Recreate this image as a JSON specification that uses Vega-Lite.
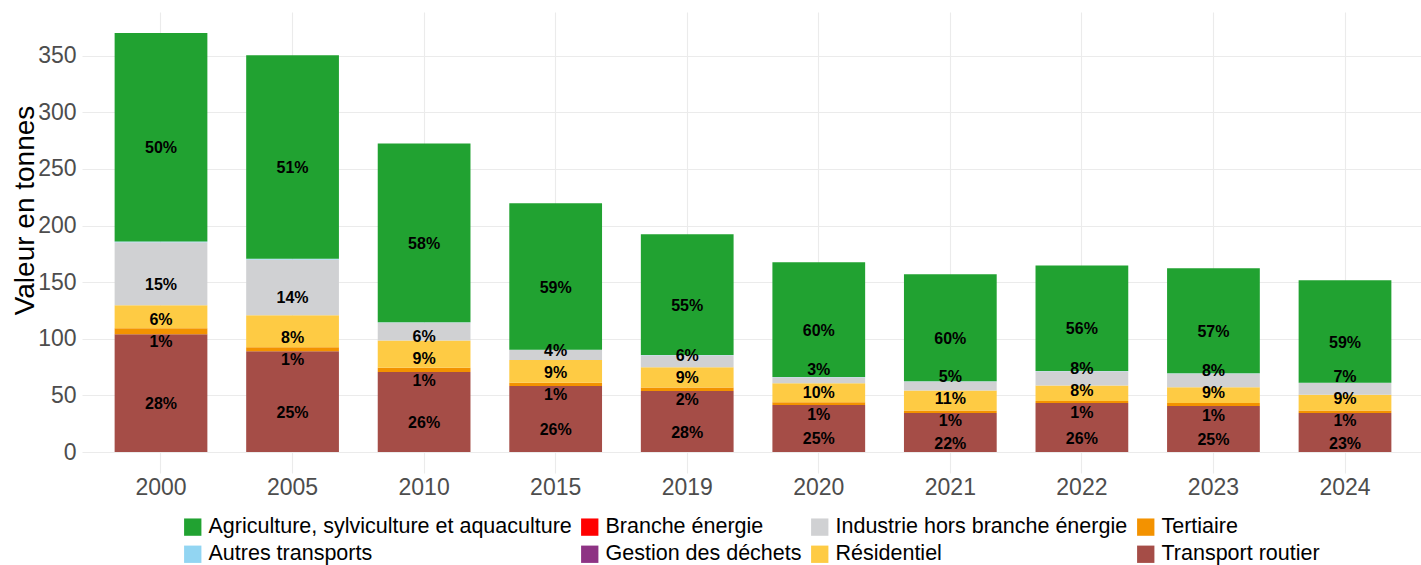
{
  "$schema": "https://vega.github.io/schema/vega-lite/v6.json",
  "width": 1342,
  "height": 461,
  "autosize": {"type": "none"},
  "padding": {"left": 82, "top": 12, "right": 0, "bottom": 92},
  "background": "white",
  "config": {
    "view": {"stroke": null},
    "font": "Liberation Sans"
  },
  "data": {
    "values": [
      {"annee": "2000", "secteur": "Transport routier", "valeur": 104.0, "label": "28%"},
      {"annee": "2000", "secteur": "Tertiaire", "valeur": 5.2, "label": "1%"},
      {"annee": "2000", "secteur": "Résidentiel", "valeur": 20.3, "label": "6%"},
      {"annee": "2000", "secteur": "Industrie hors branche énergie", "valeur": 55.7, "label": "15%"},
      {"annee": "2000", "secteur": "Autres transports", "valeur": 0.6, "label": ""},
      {"annee": "2000", "secteur": "Agriculture, sylviculture et aquaculture", "valeur": 184.2, "label": "50%"},
      {"annee": "2005", "secteur": "Transport routier", "valeur": 89.0, "label": "25%"},
      {"annee": "2005", "secteur": "Tertiaire", "valeur": 3.6, "label": "1%"},
      {"annee": "2005", "secteur": "Résidentiel", "valeur": 28.2, "label": "8%"},
      {"annee": "2005", "secteur": "Industrie hors branche énergie", "valeur": 49.2, "label": "14%"},
      {"annee": "2005", "secteur": "Autres transports", "valeur": 0.6, "label": ""},
      {"annee": "2005", "secteur": "Agriculture, sylviculture et aquaculture", "valeur": 179.8, "label": "51%"},
      {"annee": "2010", "secteur": "Transport routier", "valeur": 70.6, "label": "26%"},
      {"annee": "2010", "secteur": "Tertiaire", "valeur": 3.8, "label": "1%"},
      {"annee": "2010", "secteur": "Résidentiel", "valeur": 24.0, "label": "9%"},
      {"annee": "2010", "secteur": "Industrie hors branche énergie", "valeur": 15.9, "label": "6%"},
      {"annee": "2010", "secteur": "Autres transports", "valeur": 0.3, "label": ""},
      {"annee": "2010", "secteur": "Agriculture, sylviculture et aquaculture", "valeur": 157.9, "label": "58%"},
      {"annee": "2015", "secteur": "Transport routier", "valeur": 58.3, "label": "26%"},
      {"annee": "2015", "secteur": "Tertiaire", "valeur": 2.9, "label": "1%"},
      {"annee": "2015", "secteur": "Résidentiel", "valeur": 20.0, "label": "9%"},
      {"annee": "2015", "secteur": "Industrie hors branche énergie", "valeur": 8.8, "label": "4%"},
      {"annee": "2015", "secteur": "Autres transports", "valeur": 0.3, "label": ""},
      {"annee": "2015", "secteur": "Agriculture, sylviculture et aquaculture", "valeur": 129.3, "label": "59%"},
      {"annee": "2019", "secteur": "Transport routier", "valeur": 53.9, "label": "28%"},
      {"annee": "2019", "secteur": "Tertiaire", "valeur": 3.1, "label": "2%"},
      {"annee": "2019", "secteur": "Résidentiel", "valeur": 17.8, "label": "9%"},
      {"annee": "2019", "secteur": "Industrie hors branche énergie", "valeur": 10.6, "label": "6%"},
      {"annee": "2019", "secteur": "Autres transports", "valeur": 0.3, "label": ""},
      {"annee": "2019", "secteur": "Agriculture, sylviculture et aquaculture", "valeur": 106.5, "label": "55%"},
      {"annee": "2020", "secteur": "Transport routier", "valeur": 41.6, "label": "25%"},
      {"annee": "2020", "secteur": "Tertiaire", "valeur": 2.3, "label": "1%"},
      {"annee": "2020", "secteur": "Résidentiel", "valeur": 16.8, "label": "10%"},
      {"annee": "2020", "secteur": "Industrie hors branche énergie", "valeur": 5.3, "label": "3%"},
      {"annee": "2020", "secteur": "Autres transports", "valeur": 0.2, "label": ""},
      {"annee": "2020", "secteur": "Agriculture, sylviculture et aquaculture", "valeur": 101.3, "label": "60%"},
      {"annee": "2021", "secteur": "Transport routier", "valeur": 34.4, "label": "22%"},
      {"annee": "2021", "secteur": "Tertiaire", "valeur": 2.2, "label": "1%"},
      {"annee": "2021", "secteur": "Résidentiel", "valeur": 17.7, "label": "11%"},
      {"annee": "2021", "secteur": "Industrie hors branche énergie", "valeur": 8.0, "label": "5%"},
      {"annee": "2021", "secteur": "Autres transports", "valeur": 0.2, "label": ""},
      {"annee": "2021", "secteur": "Agriculture, sylviculture et aquaculture", "valeur": 94.4, "label": "60%"},
      {"annee": "2022", "secteur": "Transport routier", "valeur": 43.3, "label": "26%"},
      {"annee": "2022", "secteur": "Tertiaire", "valeur": 1.8, "label": "1%"},
      {"annee": "2022", "secteur": "Résidentiel", "valeur": 13.7, "label": "8%"},
      {"annee": "2022", "secteur": "Industrie hors branche énergie", "valeur": 12.6, "label": "8%"},
      {"annee": "2022", "secteur": "Autres transports", "valeur": 0.2, "label": ""},
      {"annee": "2022", "secteur": "Agriculture, sylviculture et aquaculture", "valeur": 93.2, "label": "56%"},
      {"annee": "2023", "secteur": "Transport routier", "valeur": 40.7, "label": "25%"},
      {"annee": "2023", "secteur": "Tertiaire", "valeur": 2.5, "label": "1%"},
      {"annee": "2023", "secteur": "Résidentiel", "valeur": 13.9, "label": "9%"},
      {"annee": "2023", "secteur": "Industrie hors branche énergie", "valeur": 12.3, "label": "8%"},
      {"annee": "2023", "secteur": "Autres transports", "valeur": 0.2, "label": ""},
      {"annee": "2023", "secteur": "Agriculture, sylviculture et aquaculture", "valeur": 92.6, "label": "57%"},
      {"annee": "2024", "secteur": "Transport routier", "valeur": 34.4, "label": "23%"},
      {"annee": "2024", "secteur": "Tertiaire", "valeur": 2.3, "label": "1%"},
      {"annee": "2024", "secteur": "Résidentiel", "valeur": 13.9, "label": "9%"},
      {"annee": "2024", "secteur": "Industrie hors branche énergie", "valeur": 10.3, "label": "7%"},
      {"annee": "2024", "secteur": "Autres transports", "valeur": 0.2, "label": ""},
      {"annee": "2024", "secteur": "Agriculture, sylviculture et aquaculture", "valeur": 90.5, "label": "59%"}
    ]
  },
  "transform": [
    {"calculate": "indexof(['Transport routier','Tertiaire','Résidentiel','Industrie hors branche énergie','Autres transports','Gestion des déchets','Branche énergie','Agriculture, sylviculture et aquaculture'], datum.secteur)", "as": "ordre"}
  ],
  "encoding": {
    "x": {
      "field": "annee",
      "type": "ordinal",
      "title": null,
      "scale": {"paddingInner": 0.295, "paddingOuter": 0.248},
      "axis": {
        "bandPosition": 0.5,
        "domain": false,
        "ticks": false,
        "tickSize": 0,
        "labelFontSize": 23,
        "labelColor": "#4d4d4d",
        "labelAngle": 0,
        "labelBaseline": "alphabetic",
        "labelPadding": 21,
        "grid": true,
        "gridColor": "#ebebeb",
        "gridWidth": 1.1
      }
    }
  },
  "layer": [
    {
      "mark": {"type": "bar"},
      "encoding": {
        "y": {
          "field": "valeur",
          "type": "quantitative",
          "stack": "zero",
          "title": "Valeur en tonnes",
          "scale": {"domain": [-18.5, 388.5], "nice": false, "zero": false},
          "axis": {
            "values": [0, 25, 50, 75, 100, 125, 150, 175, 200, 225, 250, 275, 300, 325, 350, 375],
            "labelExpr": "datum.value % 50 === 0 ? datum.label : ''",
            "domain": false,
            "ticks": false,
            "tickSize": 0,
            "labelFontSize": 23,
            "labelColor": "#4d4d4d",
            "labelPadding": 6,
            "gridColor": "#ebebeb",
            "gridWidth": {"condition": {"test": "datum.value % 50 === 0", "value": 1.1}, "value": 0.55},
            "titleFontSize": 28,
            "titleFontWeight": "normal",
            "titleColor": "#000000",
            "titleAngle": -90,
            "titleAlign": "center",
            "titleBaseline": "alphabetic",
            "titleX": -49,
            "titleY": 198
          }
        },
        "color": {
          "field": "secteur",
          "type": "nominal",
          "title": null,
          "scale": {
            "domain": ["Agriculture, sylviculture et aquaculture", "Branche énergie", "Industrie hors branche énergie", "Tertiaire", "Autres transports", "Gestion des déchets", "Résidentiel", "Transport routier"],
            "range": ["#21a231", "#ff0000", "#d0d1d3", "#f39200", "#92d5f2", "#8e3384", "#fecb44", "#a54d47"]
          },
          "legend": {
            "orient": "none",
            "legendX": 100,
            "legendY": 504,
            "direction": "horizontal",
            "columns": 4,
            "gridAlign": "each",
            "columnPadding": 7,
            "rowPadding": 4.5,
            "symbolType": "square",
            "symbolSize": 300,
            "symbolStrokeWidth": 0,
            "symbolOpacity": 1,
            "labelFontSize": 21.5,
            "labelColor": "#000000",
            "labelOffset": 5,
            "labelLimit": 600,
            "padding": 0
          }
        },
        "order": {"field": "ordre", "type": "quantitative", "sort": "ascending"}
      }
    },
    {
      "transform": [
        {"stack": "valeur", "groupby": ["annee"], "sort": [{"field": "ordre", "order": "ascending"}], "as": ["v0", "v1"]},
        {"filter": "datum.label !== ''"},
        {"calculate": "(datum.v0 + datum.v1) / 2", "as": "milieu"},
        {"window": [{"op": "row_number", "as": "rang"}], "groupby": ["annee"], "sort": [{"field": "ordre", "order": "ascending"}]},
        {"calculate": "datum.milieu - datum.rang * 19.5", "as": "ecart"},
        {"window": [{"op": "max", "field": "ecart", "as": "ecartmax"}], "groupby": ["annee"], "sort": [{"field": "ordre", "order": "ascending"}], "frame": [null, 0]},
        {"calculate": "datum.ecartmax + datum.rang * 19.5", "as": "position"}
      ],
      "mark": {"type": "text", "fontSize": 16, "fontWeight": "bold", "color": "#000000", "baseline": "middle", "dy": 11},
      "encoding": {
        "y": {"field": "position", "type": "quantitative"},
        "text": {"field": "label", "type": "nominal"}
      }
    }
  ]
}
